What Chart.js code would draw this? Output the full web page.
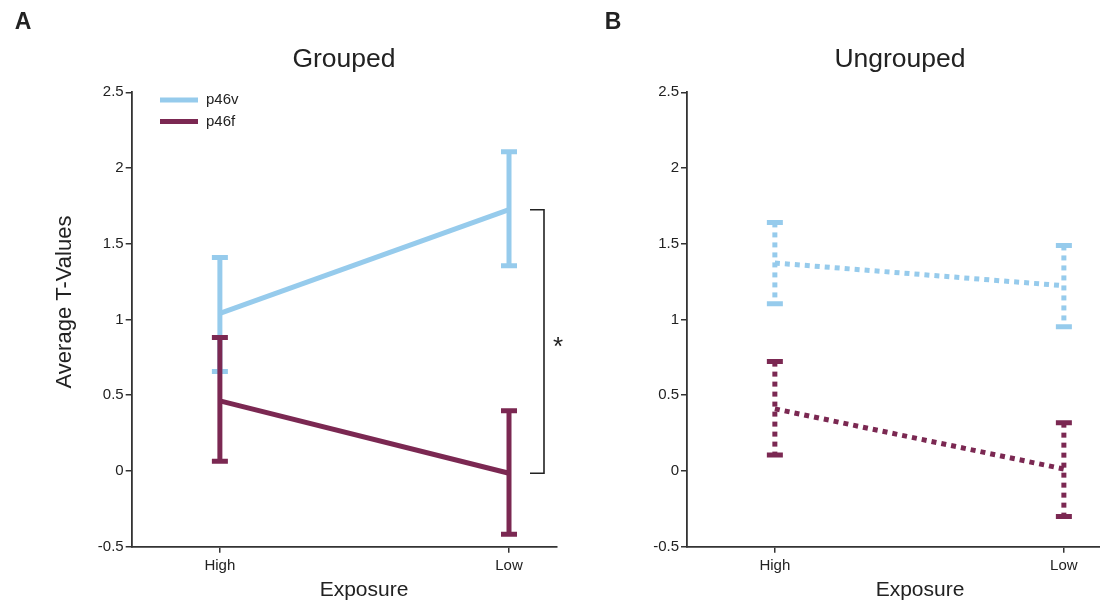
<!DOCTYPE html>
<html>
<head>
<meta charset="utf-8">
<script src="https://cdn.jsdelivr.net/npm/chart.js@4/dist/chart.umd.min.js"></script>
<style>
  body { margin: 0; background: #fff; }
  #wrap { position: relative; width: 1100px; height: 601px; }
  canvas { position: absolute; top: 0; }
</style>
</head>
<body>
<div id="wrap">
  <canvas id="chartA" width="585" height="601" style="left:0;width:585px;height:601px"></canvas>
  <canvas id="chartB" width="515" height="601" style="left:585px;width:515px;height:601px"></canvas>
</div>
<script>
(()=>{
  // categories along x (High = 0, Low = 1)
  var exposure = ['High', 'Low'];
  var yTicks = [-0.5, 0, 0.5, 1, 1.5, 2, 2.5];
  var seriesNames = ['p46v', 'p46f'];

  // Grouped
  var groupedV = [1.04, 1.725];
  var groupedVLo = [0.656, 1.355];
  var groupedVHi = [1.41, 2.108];
  var groupedF = [0.463, -0.015];
  var groupedFLo = [0.064, -0.418];
  var groupedFHi = [0.881, 0.397];

  // Ungrouped
  var ungroupedV = [1.373, 1.223];
  var ungroupedVLo = [1.104, 0.952];
  var ungroupedVHi = [1.641, 1.489];
  var ungroupedF = [0.41, 0.013];
  var ungroupedFLo = [0.106, -0.30];
  var ungroupedFHi = [0.722, 0.319];

  var blue = '#96cbec';
  var maroon = '#7b2852';
  var ink = '#222';
  var font = '"Liberation Sans", Arial, Helvetica, sans-serif';

  function pts(vals) {
    return vals.map(function(v, i){ return {x: i, y: v}; });
  }

  // error bars drawn right after each dataset
  var errorBars = {
    id: 'errorBars',
    afterDatasetDraw: function(chart, args) {
      var ds = chart.data.datasets[args.index];
      var c = chart.ctx, xs = chart.scales.x, ys = chart.scales.y;
      c.save();
      c.strokeStyle = ds.borderColor;
      c.lineWidth = 5;
      c.lineCap = 'butt';
      ds.lo.forEach(function(lo, i){
        var px = xs.getPixelForValue(i);
        var top = ys.getPixelForValue(ds.hi[i]);
        var bot = ys.getPixelForValue(lo);
        c.setLineDash(ds.dotted ? [5, 5] : []);
        c.beginPath(); c.moveTo(px, top); c.lineTo(px, bot); c.stroke();
        c.setLineDash([]);
        c.beginPath();
        c.moveTo(px - 8, top); c.lineTo(px + 8, top);
        c.moveTo(px - 8, bot); c.lineTo(px + 8, bot);
        c.stroke();
      });
      c.restore();
    }
  };

  var decorations = {
    id: 'decorations',
    afterDraw: function(chart) {
      var o = chart.options.plugins.decorations;
      var c = chart.ctx, ys = chart.scales.y;
      c.save();
      c.fillStyle = ink;
      c.textAlign = 'center';
      c.textBaseline = 'middle';
      c.font = 'bold 23px ' + font;
      c.fillText(o.panel, o.panelX, 23);
      c.font = '26.5px ' + font;
      c.fillText(o.title, o.titleX, 60);
      c.font = '21px ' + font;
      c.fillText('Exposure', o.xTitleX, 590);
      if (o.yTitle) {
        c.save();
        c.font = '22px ' + font;
        c.translate(o.yTitleX, 302);
        c.rotate(-Math.PI / 2);
        c.fillText('Average T-Values', 0, 0);
        c.restore();
      }

      if (o.legend) {
        c.lineWidth = 5;
        c.font = '15px ' + font;
        c.textAlign = 'left';
        chart.data.datasets.forEach(function(ds, i){
          var y = 100 + i * 21.5;
          c.strokeStyle = ds.borderColor;
          c.beginPath(); c.moveTo(160, y); c.lineTo(198, y); c.stroke();
          c.fillStyle = ink;
          c.fillText(ds.label, 206, y);
        });
      }

      if (o.bracket) {
        var d = chart.data.datasets;
        var y1 = ys.getPixelForValue(d[0].data[1].y);
        var y2 = ys.getPixelForValue(d[1].data[1].y);
        c.strokeStyle = ink;
        c.lineWidth = 1.6;
        c.beginPath();
        c.moveTo(530, y1); c.lineTo(544, y1); c.lineTo(544, y2); c.lineTo(530, y2);
        c.stroke();
        c.fillStyle = ink;
        c.textAlign = 'center';
        c.font = '26px ' + font;
        c.fillText('*', 558, (y1 + y2) / 2 + 6);
      }
      c.restore();
    }
  };

  function makeChart(id, v, vLo, vHi, f, fLo, fHi, dotted, xMin, xMax, yWidth, padRight, deco) {
    var ctx = document.getElementById(id).getContext('2d');
    return new Chart(ctx, {
      type: 'line',
      data: {
        datasets: [{
          label: seriesNames[0], data: pts(v), lo: vLo, hi: vHi, dotted: dotted,
          borderColor: blue, borderWidth: 5, borderDash: dotted ? [5, 5] : [],
          borderCapStyle: 'butt', pointRadius: 0, order: 2
        }, {
          label: seriesNames[1], data: pts(f), lo: fLo, hi: fHi, dotted: dotted,
          borderColor: maroon, borderWidth: 5, borderDash: dotted ? [5, 5] : [],
          borderCapStyle: 'butt', pointRadius: 0, order: 1
        }]
      },
      options: {
        responsive: false,
        animation: false,
        devicePixelRatio: 1,
        layout: { padding: { left: 0, right: padRight, top: 92.3, bottom: 0 } },
        plugins: { legend: { display: false }, tooltip: { enabled: false }, decorations: deco },
        scales: {
          x: {
            type: 'linear', min: xMin, max: xMax,
            afterBuildTicks: function(s){ s.ticks = exposure.map(function(_, i){ return {value: i}; }); },
            afterFit: function(s){ s.height = 54.3; },
            grid: { drawOnChartArea: false, drawTicks: true, tickLength: 6, color: '#333', lineWidth: 1.5 },
            border: { display: true, color: '#333', width: 1.8 },
            ticks: { padding: 4, color: ink, font: { size: 15, family: font },
              callback: function(val){ return exposure[val]; } }
          },
          y: {
            min: -0.5, max: 2.5,
            afterBuildTicks: function(s){ s.ticks = yTicks.map(function(t){ return {value: t}; }); },
            afterFit: function(s){ s.width = yWidth; },
            grid: { drawOnChartArea: false, drawTicks: true, tickLength: 6, color: '#333', lineWidth: 1.5 },
            border: { display: true, color: '#333', width: 1.8 },
            ticks: { padding: 2, color: ink, font: { size: 15, family: font },
              callback: function(val){ return String(val); } }
          }
        }
      },
      plugins: [errorBars, decorations]
    });
  }

  makeChart('chartA', groupedV, groupedVLo, groupedVHi, groupedF, groupedFLo, groupedFHi, false,
    -0.305, 1.166, 131.7, 28,
    { panel: 'A', panelX: 23, title: 'Grouped', titleX: 344, xTitleX: 364, yTitleX: 65, yTitle: true, legend: true, bracket: true });

  makeChart('chartB', ungroupedV, ungroupedVLo, ungroupedVHi, ungroupedF, ungroupedFLo, ungroupedFHi, true,
    -0.304, 1.125, 102, 0,
    { panel: 'B', panelX: 28, title: 'Ungrouped', titleX: 315, xTitleX: 335, yTitle: false, legend: false, bracket: false });
})();
</script>
</body>
</html>
